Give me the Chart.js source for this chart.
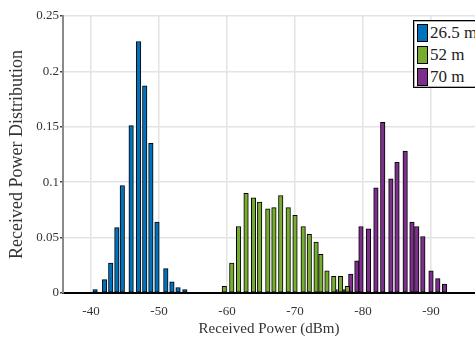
<!DOCTYPE html>
<html><head><meta charset="utf-8">
<script src="https://cdn.jsdelivr.net/npm/chart.js@4.4.0/dist/chart.umd.min.js"></script>
<style>
html,body{margin:0;padding:0;background:#fff;overflow:hidden}
#wrap{position:relative;width:475px;height:338px}
#legend{position:absolute;left:413px;top:20px;width:80px;height:66px;border:1.5px solid #000;background:#fff;box-shadow:inset 0 0 0 1px #b0b0b0;font-family:"Liberation Serif",serif;font-size:17px;color:#222}
.item{position:absolute;left:3px;height:18px;display:flex;align-items:center;white-space:nowrap}
.sw{width:9px;height:16px;border:1px solid #000;margin-right:2px;flex:none}
</style></head>
<body><div id="wrap"><canvas id="c" width="475" height="338"></canvas><div id="legend"></div></div>
<script>
// Series names and colours
const seriesNames = ['26.5 m', '52 m', '70 m'];
const seriesColors = ['#0072BD', '#77AC30', '#7E2F8E'];

// 26.5 m: bin centre (dBm) and distribution value
const power26 = [-40.6, -42.0, -42.9, -43.8, -44.6, -45.9, -47.0, -47.9, -48.8, -49.7, -51.0, -51.9, -52.8, -53.8];
const dist26  = [0.003, 0.012, 0.027, 0.059, 0.097, 0.151, 0.227, 0.187, 0.135, 0.064, 0.022, 0.010, 0.005, 0.003];

// 52 m
const power52 = [-59.6, -60.7, -61.7, -62.8, -63.9, -64.8, -66.0, -66.9, -67.9, -69.0, -70.0, -71.2, -72.1, -73.1, -73.8, -74.7, -75.7, -76.7, -77.7];
const dist52  = [0.006, 0.027, 0.060, 0.090, 0.086, 0.082, 0.076, 0.077, 0.088, 0.077, 0.070, 0.060, 0.053, 0.046, 0.035, 0.020, 0.015, 0.015, 0.006];

// 70 m
const power70 = [-75.9, -77.2, -78.2, -79.1, -79.7, -80.8, -81.9, -82.9, -84.1, -85.0, -86.2, -87.2, -87.9, -88.8, -90.0, -91.0, -92.0];
const dist70  = [0.003, 0.003, 0.017, 0.029, 0.060, 0.058, 0.095, 0.154, 0.103, 0.118, 0.128, 0.064, 0.060, 0.051, 0.020, 0.013, 0.008];

// Axis ticks
const xTickValues = [-40, -50, -60, -70, -80, -90];
const yTickValues = [0, 0.05, 0.1, 0.15, 0.2, 0.25];
const yTickLabels = ['0', '0.05', '0.1', '0.15', '0.2', '0.25'];
const xTitle = 'Received Power (dBm)';
const yTitle = 'Received Power Distribution';

const toPts = (xs, ys) => xs.map((x, i) => ({x: x, y: ys[i]}));
const seriesData = [toPts(power26, dist26), toPts(power52, dist52), toPts(power70, dist70)];

const datasets = seriesNames.map((name, i) => ({
  label: name,
  data: seriesData[i],
  backgroundColor: seriesColors[i],
  borderColor: '#000',
  borderWidth: 1,
  borderSkipped: false,
  barThickness: 4.5,
  grouped: false
}));

const serif = '"Liberation Serif", "Times New Roman", serif';

new Chart(document.getElementById('c'), {
  type: 'bar',
  data: { datasets },
  options: {
    responsive: false,
    animation: false,
    devicePixelRatio: 1,
    layout: { padding: { top: 16, right: 0, left: 0, bottom: 0 } },
    plugins: { legend: { display: false }, tooltip: { enabled: false } },
    scales: {
      x: {
        type: 'linear',
        reverse: true,
        offset: false,
        min: -96.47,
        max: -35.88,
        afterBuildTicks: s => { s.ticks = xTickValues.map(v => ({value: v})); },
        afterFit: s => { s.height = 45; },
        ticks: { color: '#333', font: { family: serif, size: 13 }, padding: 11, maxRotation: 0,
                 callback: v => String(v) },
        grid: { color: '#e4e4e4', lineWidth: 1.5, drawTicks: false, offset: false },
        border: { color: '#000', width: 2 },
        title: { display: true, text: xTitle, color: '#333', font: { family: serif, size: 15 }, padding: { top: 0, bottom: 0 } }
      },
      y: {
        min: 0,
        max: 0.25,
        afterBuildTicks: s => { s.ticks = yTickValues.map(v => ({value: v})); },
        afterFit: s => { s.width = 63; },
        ticks: { color: '#333', font: { family: serif, size: 13 }, padding: 1,
                 callback: (v, i) => yTickLabels[i] },
        grid: { color: '#e4e4e4', lineWidth: 1.5, drawTicks: true, tickLength: 3, tickColor: '#444', tickWidth: 1.5 },
        border: { color: '#8a8a8a', width: 2 },
        title: { display: true, text: yTitle, color: '#333', font: { family: serif, size: 18 }, padding: { top: 6, bottom: 0 } }
      }
    }
  }
});

// Legend (built from series names / colours)
const lg = document.getElementById('legend');
seriesNames.forEach((n, i) => {
  const d = document.createElement('div');
  d.className = 'item';
  d.style.top = (3 + i * 22) + 'px';
  const sw = document.createElement('span');
  sw.className = 'sw';
  sw.style.background = seriesColors[i];
  const t = document.createElement('span');
  t.textContent = n;
  d.appendChild(sw); d.appendChild(t);
  lg.appendChild(d);
});
</script>
</body></html>
